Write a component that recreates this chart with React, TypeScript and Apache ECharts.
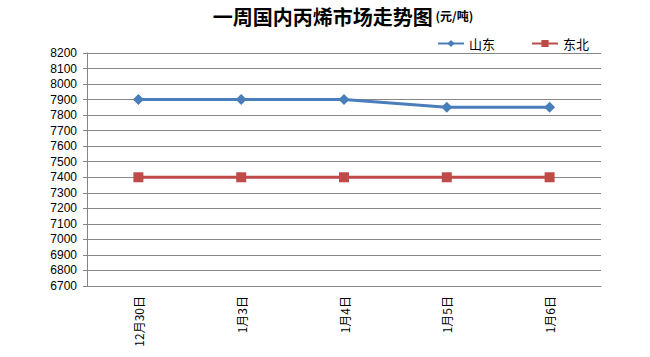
import React, { useEffect, useRef } from "react";
import * as echarts from "echarts";

const categories = ["12月30日", "1月3日", "1月4日", "1月5日", "1月6日"];
const shandong = [7900, 7900, 7900, 7850, 7850];
const dongbei = [7400, 7400, 7400, 7400, 7400];
const seriesNames = ["山东", "东北"];

export default function App() {
  const ref = useRef<HTMLDivElement>(null);
  useEffect(() => {
    const chart = echarts.init(ref.current!, null, { renderer: "svg" });
    chart.setOption({
      animation: false,
      backgroundColor: "#ffffff",
      title: {
        text: "{a|一周国内丙烯市场走势图}{b| (元/吨)}",
        left: 338,
        textAlign: "center",
        top: 1,
        textStyle: {
          rich: {
            a: { fontSize: 20, fontWeight: "bold", fontFamily: "Noto Sans CJK SC", color: "#000" },
            b: { fontSize: 12, fontWeight: "bold", fontFamily: "Noto Sans CJK SC", color: "#000" },
          },
        },
      },
      legend: {
        right: 56,
        top: 32,
        itemWidth: 26,
        itemHeight: 9,
        itemGap: 36,
        textStyle: { fontSize: 13, fontFamily: "Noto Sans CJK SC", color: "#000" },
        data: seriesNames,
      },
      grid: { left: 87, right: 49, top: 53, bottom: 71 },
      xAxis: {
        type: "category",
        data: categories,
        boundaryGap: true,
        axisLine: { lineStyle: { color: "#868686", width: 1 } },
        axisTick: { show: false },
        axisLabel: {
          rotate: 90,
          fontSize: 12,
          fontFamily: "Noto Sans CJK SC",
          color: "#000",
          margin: 10,
        },
      },
      yAxis: {
        type: "value",
        min: 6700,
        max: 8200,
        interval: 100,
        axisLine: { show: true, lineStyle: { color: "#868686", width: 1 } },
        axisTick: { show: true, length: 4, lineStyle: { color: "#868686" } },
        splitLine: { lineStyle: { color: "#868686", width: 1 } },
        axisLabel: {
          fontSize: 12,
          fontFamily: "Liberation Sans, Arial",
          color: "#000",
          margin: 10,
          formatter: (v: number) => String(v),
        },
      },
      series: [
        {
          name: seriesNames[0],
          type: "line",
          data: shandong,
          symbol: "diamond",
          symbolSize: 11,
          lineStyle: { color: "#4a7ebb", width: 3 },
          itemStyle: { color: "#4a7ebb" },
        },
        {
          name: seriesNames[1],
          type: "line",
          data: dongbei,
          symbol: "rect",
          symbolSize: 10,
          lineStyle: { color: "#be4b48", width: 3 },
          itemStyle: { color: "#be4b48" },
        },
      ],
    });
    return () => chart.dispose();
  }, []);
  return <div ref={ref} style={{ width: 650, height: 357, position: "absolute", left: 0, top: 0 }} />;
}
